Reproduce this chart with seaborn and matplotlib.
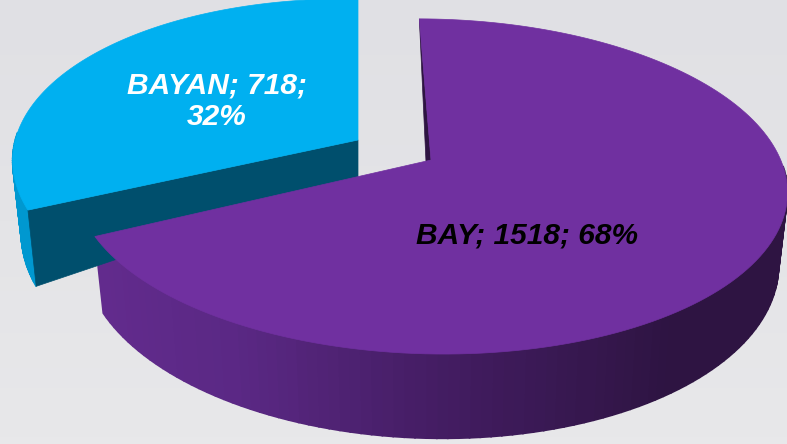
import numpy as np
import matplotlib
matplotlib.use('Agg')
import matplotlib.pyplot as plt
import seaborn as sns

# Data
names = ['BAY', 'BAYAN']
counts = [1518, 718]
shares = np.array(counts) / sum(counts)

sns.set_style('white')
plt.rcParams['font.family'] = ['Liberation Sans', 'DejaVu Sans']

fig = plt.figure(figsize=(7.87, 4.44), dpi=100)
ax = fig.add_axes([0, 0, 1, 1])
ax.set_xlim(0, 787)
ax.set_ylim(444, 0)
ax.axis('off')

# Background, faint vertical gradient
bg = sns.blend_palette(['#e0e0e4', '#e8e8ea'], 64, as_cmap=True)
ax.imshow(np.linspace(0, 1, 64).reshape(-1, 1), cmap=bg, extent=(0, 787, 444, 0), aspect='auto', zorder=0)


def project(u, v, z, cx, cy, r):
    # unit circle (v points away from viewer) to picture, z=0 top face, z=1 bottom
    k = 0.158
    d = 1 + k * v
    rho = np.sqrt(u ** 2 + v ** 2)
    x = cx + r * u / d * (1 - 0.025 * z)
    y = cy - 163.3 * v / d + z * (38 + 33 * rho) / d + 0.017 * (r * u / d)
    return x, y


def draw_slice(a0, a1, cx, cy, r, wall_colors):
    # a0, a1 in degrees clockwise from 12 o'clock
    t = np.radians(np.linspace(a0, a1, 160))
    u, v = np.sin(t), np.cos(t)
    x0, y0 = project(u, v, 0, cx, cy, r)
    x1, y1 = project(u, v, 1, cx, cy, r)
    # outer wall, shaded left to right, only the part facing the viewer
    pal = sns.blend_palette(wall_colors, 101)
    for i in range(len(t) - 1):
        if v[i] > 0:
            continue
        c = pal[int(np.clip((u[i] + 1) / 1.6, 0, 1) * 100)]
        ax.fill([x0[i], x0[i + 1], x1[i + 1], x1[i]], [y0[i], y0[i + 1], y1[i + 1], y1[i]],
                color=c, lw=1.2, zorder=2)
    return u, v, x0, y0


# Blue slice pulled out to the upper left
a_start = -2.2
a_split = a_start + 360 * shares[0]
bx, by, br = 358, 140, 341
u, v, x0, y0 = draw_slice(a_split + 2.2, 360, bx, by, br, ['#0098d0', '#0098d0'])
ex, ey = project(u[0], v[0], 1, bx, by, br)
ax.fill([bx, x0[0], ex, bx], [by, y0[0], ey, by + 38], color='#004f6d', lw=0.5, zorder=3)
ax.fill(np.r_[bx, x0], np.r_[by, y0], color='#00b0f0', lw=0.5, zorder=4)

# Purple slice
cx, cy, r = 431, 160, 352
u, v, x0, y0 = draw_slice(a_start, a_split, cx, cy, r, ['#652c90', '#5a2884', '#421c60', '#2e1442'])
ax.fill([x0[0], cx, cx - 5], [y0[0], cy, cy + 2], color='#2e1442', lw=0.5, zorder=5)
ax.fill(np.r_[cx, x0], np.r_[cy, y0], color='#7030a0', lw=0.5, zorder=6)

# Labels
pct = np.round(shares * 100).astype(int)
ax.text(527, 235, f'{names[0]}; {counts[0]}; {pct[0]}%', color='black', fontsize=21.5, style='italic',
        fontweight='bold', ha='center', va='center', zorder=8)
ax.text(217, 101, f'{names[1]}; {counts[1]};\n{pct[1]}%', color='white', fontsize=21.5, style='italic',
        fontweight='bold', ha='center', va='center', linespacing=1.15, zorder=8)

fig.savefig('out.png', dpi=100)
